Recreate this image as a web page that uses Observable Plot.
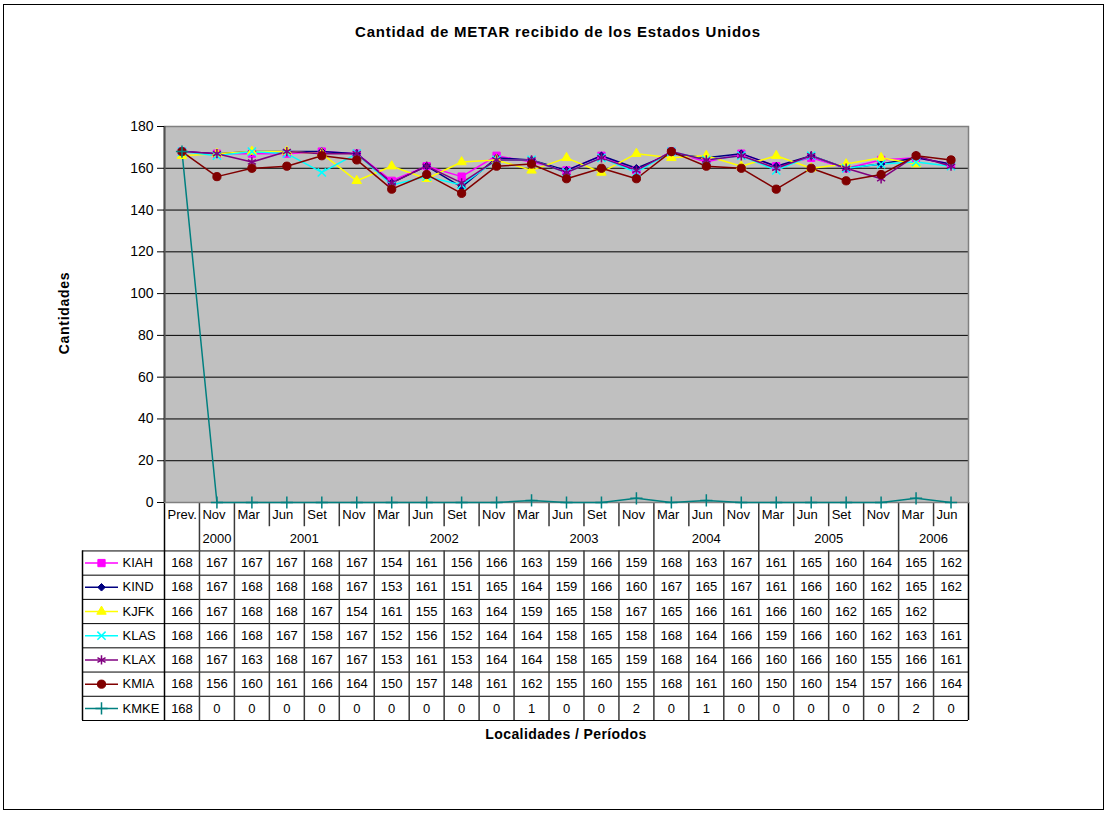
<!DOCTYPE html>
<html>
<head>
<meta charset="utf-8">
<script src="https://cdn.jsdelivr.net/npm/d3@7"></script>
<script src="https://cdn.jsdelivr.net/npm/@observablehq/plot@0.6"></script>
<style>
  body { margin: 0; background: #fff; font-family: Arial, "Liberation Sans", sans-serif; }
  #wrap { position: relative; width: 1108px; height: 814px; overflow: hidden; background: #fff; }
  #border { position: absolute; left: 3px; top: 4px; width: 1101px; height: 806px; border: 1px solid #000; box-sizing: border-box; }
  .t { position: absolute; font-weight: bold; font-size: 14px; line-height: 16px; color: #000; white-space: nowrap; text-align: center; }
  #title { left: 0; width: 1116px; top: 24px; font-size: 15px; letter-spacing: 0.75px; }
  #xtitle { left: 466px; width: 200px; top: 726px; letter-spacing: 0.4px; }
  #ytitle { left: -36px; width: 200px; top: 305px; transform: rotate(-90deg); letter-spacing: 0.7px; }
  #chart, #table { position: absolute; left: 0; }
  #chart { top: 0; }
  #table { top: 502px; }
  svg { overflow: visible; }
</style>
</head>
<body>
<div id="wrap">
  <div id="border"></div>
  <div id="table"></div>
  <div id="chart"></div>
  <div class="t" id="title">Cantidad de METAR recibido de los Estados Unidos</div>
  <div class="t" id="ytitle">Cantidades</div>
  <div class="t" id="xtitle">Localidades / Períodos</div>
</div>
<script>
// ---------- Data ----------
const periods = ["Prev.","Nov","Mar","Jun","Set","Nov","Mar","Jun","Set","Nov","Mar","Jun","Set","Nov","Mar","Jun","Nov","Mar","Jun","Set","Nov","Mar","Jun"];
const years   = ["","2000","2001","2001","2001","2001","2002","2002","2002","2002","2003","2003","2003","2003","2004","2004","2004","2005","2005","2005","2005","2006","2006"];

const KIAH = [168,167,167,167,168,167,154,161,156,166,163,159,166,159,168,163,167,161,165,160,164,165,162];
const KIND = [168,167,168,168,168,167,153,161,151,165,164,159,166,160,167,165,167,161,166,160,162,165,162];
const KJFK = [166,167,168,168,167,154,161,155,163,164,159,165,158,167,165,166,161,166,160,162,165,162,null];
const KLAS = [168,166,168,167,158,167,152,156,152,164,164,158,165,158,168,164,166,159,166,160,162,163,161];
const KLAX = [168,167,163,168,167,167,153,161,153,164,164,158,165,159,168,164,166,160,166,160,155,166,161];
const KMIA = [168,156,160,161,166,164,150,157,148,161,162,155,160,155,168,161,160,150,160,154,157,166,164];
const KMKE = [168,0,0,0,0,0,0,0,0,0,1,0,0,2,0,1,0,0,0,0,0,2,0];

const seriesNames   = ["KIAH","KIND","KJFK","KLAS","KLAX","KMIA","KMKE"];
const seriesValues  = [KIAH, KIND, KJFK, KLAS, KLAX, KMIA, KMKE];
const seriesColors  = ["#ff00ff","#000080","#ffff00","#00ffff","#800080","#800000","#008080"];
const seriesSymbols = ["square","diamond2","triangle","times","asterisk","circle","plus"];
const seriesR       = [4.1, 3.4, 3.5, 3.8, 4.4, 4.1, 4];
const strokeSymbols = new Set(["times","asterisk","plus"]);

const yTicks = d3.range(0, 181, 20);

// ---------- Layout ----------
const W = 1108, ML = 164, MR = 140;
const n = periods.length;
const step = (W - ML - MR) / n;
const font = "Arial, 'Liberation Sans', sans-serif";
const idx = d3.range(n);

function symbolDot(data, k, opts) {
  const sym = seriesSymbols[k], c = seriesColors[k], strokeSym = strokeSymbols.has(sym);
  return Plot.dot(data, {...opts, symbol: sym, r: seriesR[k],
    fill: strokeSym ? "none" : c, stroke: c, strokeWidth: strokeSym ? 1.5 : 1});
}

// ---------- Chart ----------
const chartMarks = [
  Plot.frame({fill: "#c0c0c0"}),
  Plot.ruleY(yTicks.filter(v => v > 0 && v < 180), {stroke: "#000", strokeWidth: 1}),
  Plot.frame({stroke: "#808080", strokeWidth: 1.5}),
  Plot.ruleX([-0.5], {stroke: "#505050", strokeWidth: 2}),
  Plot.axisY({ticks: yTicks, tickSize: 7, tickPadding: 4, label: null, fontSize: 14, stroke: "#000"})
];
seriesNames.forEach((name, k) => {
  const vals = seriesValues[k];
  chartMarks.push(Plot.line(idx, {x: i => i, y: i => vals[i], stroke: seriesColors[k], strokeWidth: 1.5}));
});
seriesNames.forEach((name, k) => {
  const vals = seriesValues[k];
  chartMarks.push(symbolDot(idx.filter(i => vals[i] != null), k, {x: i => i, y: i => vals[i]}));
});

const chart = Plot.plot({
  width: W, height: 510,
  marginTop: 126, marginBottom: 8, marginLeft: ML, marginRight: MR,
  style: {background: "transparent", fontFamily: font, fontSize: "14px", color: "#000", overflow: "visible"},
  x: {type: "linear", domain: [-0.5, n - 0.5], axis: null},
  y: {domain: [0, 180]},
  marks: chartMarks
});
document.getElementById("chart").appendChild(chart);

// ---------- Data table ----------
const labelLeft = -0.5 - (ML - 82) / step;   // left edge of legend column
const keyX1 = -0.5 - 79 / step, keyX2 = -0.5 - 46 / step, keyMid = -0.5 - 63 / step;
const labelX = -0.5 - 42 / step;
const rows = 2 + seriesNames.length;

const monthSeps = [], yearSeps = [];
for (let i = 1; i < n; i++) {
  if (years[i] !== "" && years[i] === years[i - 1]) monthSeps.push(i - 0.5);
  else yearSeps.push(i - 0.5);
}
const yearGroups = [];
idx.forEach(i => {
  if (years[i] === "") return;
  const g = yearGroups[yearGroups.length - 1];
  if (g && g.year === years[i]) g.end = i; else yearGroups.push({year: years[i], start: i, end: i});
});
const cells = [];
seriesValues.forEach((vals, k) => vals.forEach((v, i) => { if (v != null) cells.push({i, k, v}); }));

const vStroke = "#3a3a3a", vWidth = 1.5;
const tableMarks = [
  Plot.ruleY([0], {x1: -0.5, x2: n - 0.5, stroke: "#000", strokeWidth: 1}),
  Plot.ruleY(d3.range(2, rows + 1), {x1: labelLeft, x2: n - 0.5, stroke: "#000", strokeWidth: 1}),
  Plot.ruleX(monthSeps, {y1: 0, y2: 1, stroke: vStroke, strokeWidth: vWidth}),
  Plot.ruleX(yearSeps, {y1: 0, y2: 2, stroke: vStroke, strokeWidth: vWidth}),
  Plot.ruleX(d3.range(1, n).map(i => i - 0.5), {y1: 2, y2: rows, stroke: vStroke, strokeWidth: vWidth}),
  Plot.ruleX([-0.5, n - 0.5], {y1: 0, y2: rows, stroke: "#000", strokeWidth: 1.5}),
  Plot.ruleX([labelLeft], {y1: 2, y2: rows, stroke: "#000", strokeWidth: 1.5}),
  Plot.text(idx, {x: i => i - 0.5, y: 0.5, text: i => periods[i], textAnchor: "start", dx: 3, fontSize: 13, fill: "#000"}),
  Plot.text(yearGroups, {x: g => (g.start + g.end) / 2, y: 1.5, text: "year", fontSize: 13, fill: "#000"}),
  Plot.text(cells, {x: "i", y: d => d.k + 2.5, text: d => String(d.v), fontSize: 13, fill: "#000"}),
  Plot.ruleY(seriesNames, {y: (d, k) => k + 2.5, x1: keyX1, x2: keyX2, stroke: (d, k) => seriesColors[k], strokeWidth: 1.5}),
  Plot.text(seriesNames, {x: labelX, y: (d, k) => k + 2.5, text: d => d, textAnchor: "start", fontSize: 13, fill: "#000"})
];
seriesNames.forEach((name, k) => {
  tableMarks.push(symbolDot([name], k, {x: keyMid, y: k + 2.5}));
});

const table = Plot.plot({
  width: W, height: 222,
  marginTop: 0, marginBottom: 4, marginLeft: ML, marginRight: MR,
  style: {background: "transparent", fontFamily: font, fontSize: "13px", color: "#000", overflow: "visible"},
  x: {type: "linear", domain: [-0.5, n - 0.5], axis: null},
  y: {type: "linear", domain: [0, rows], reverse: true, axis: null},
  color: {type: "identity"},
  marks: tableMarks
});
document.getElementById("table").appendChild(table);
</script>
</body>
</html>
